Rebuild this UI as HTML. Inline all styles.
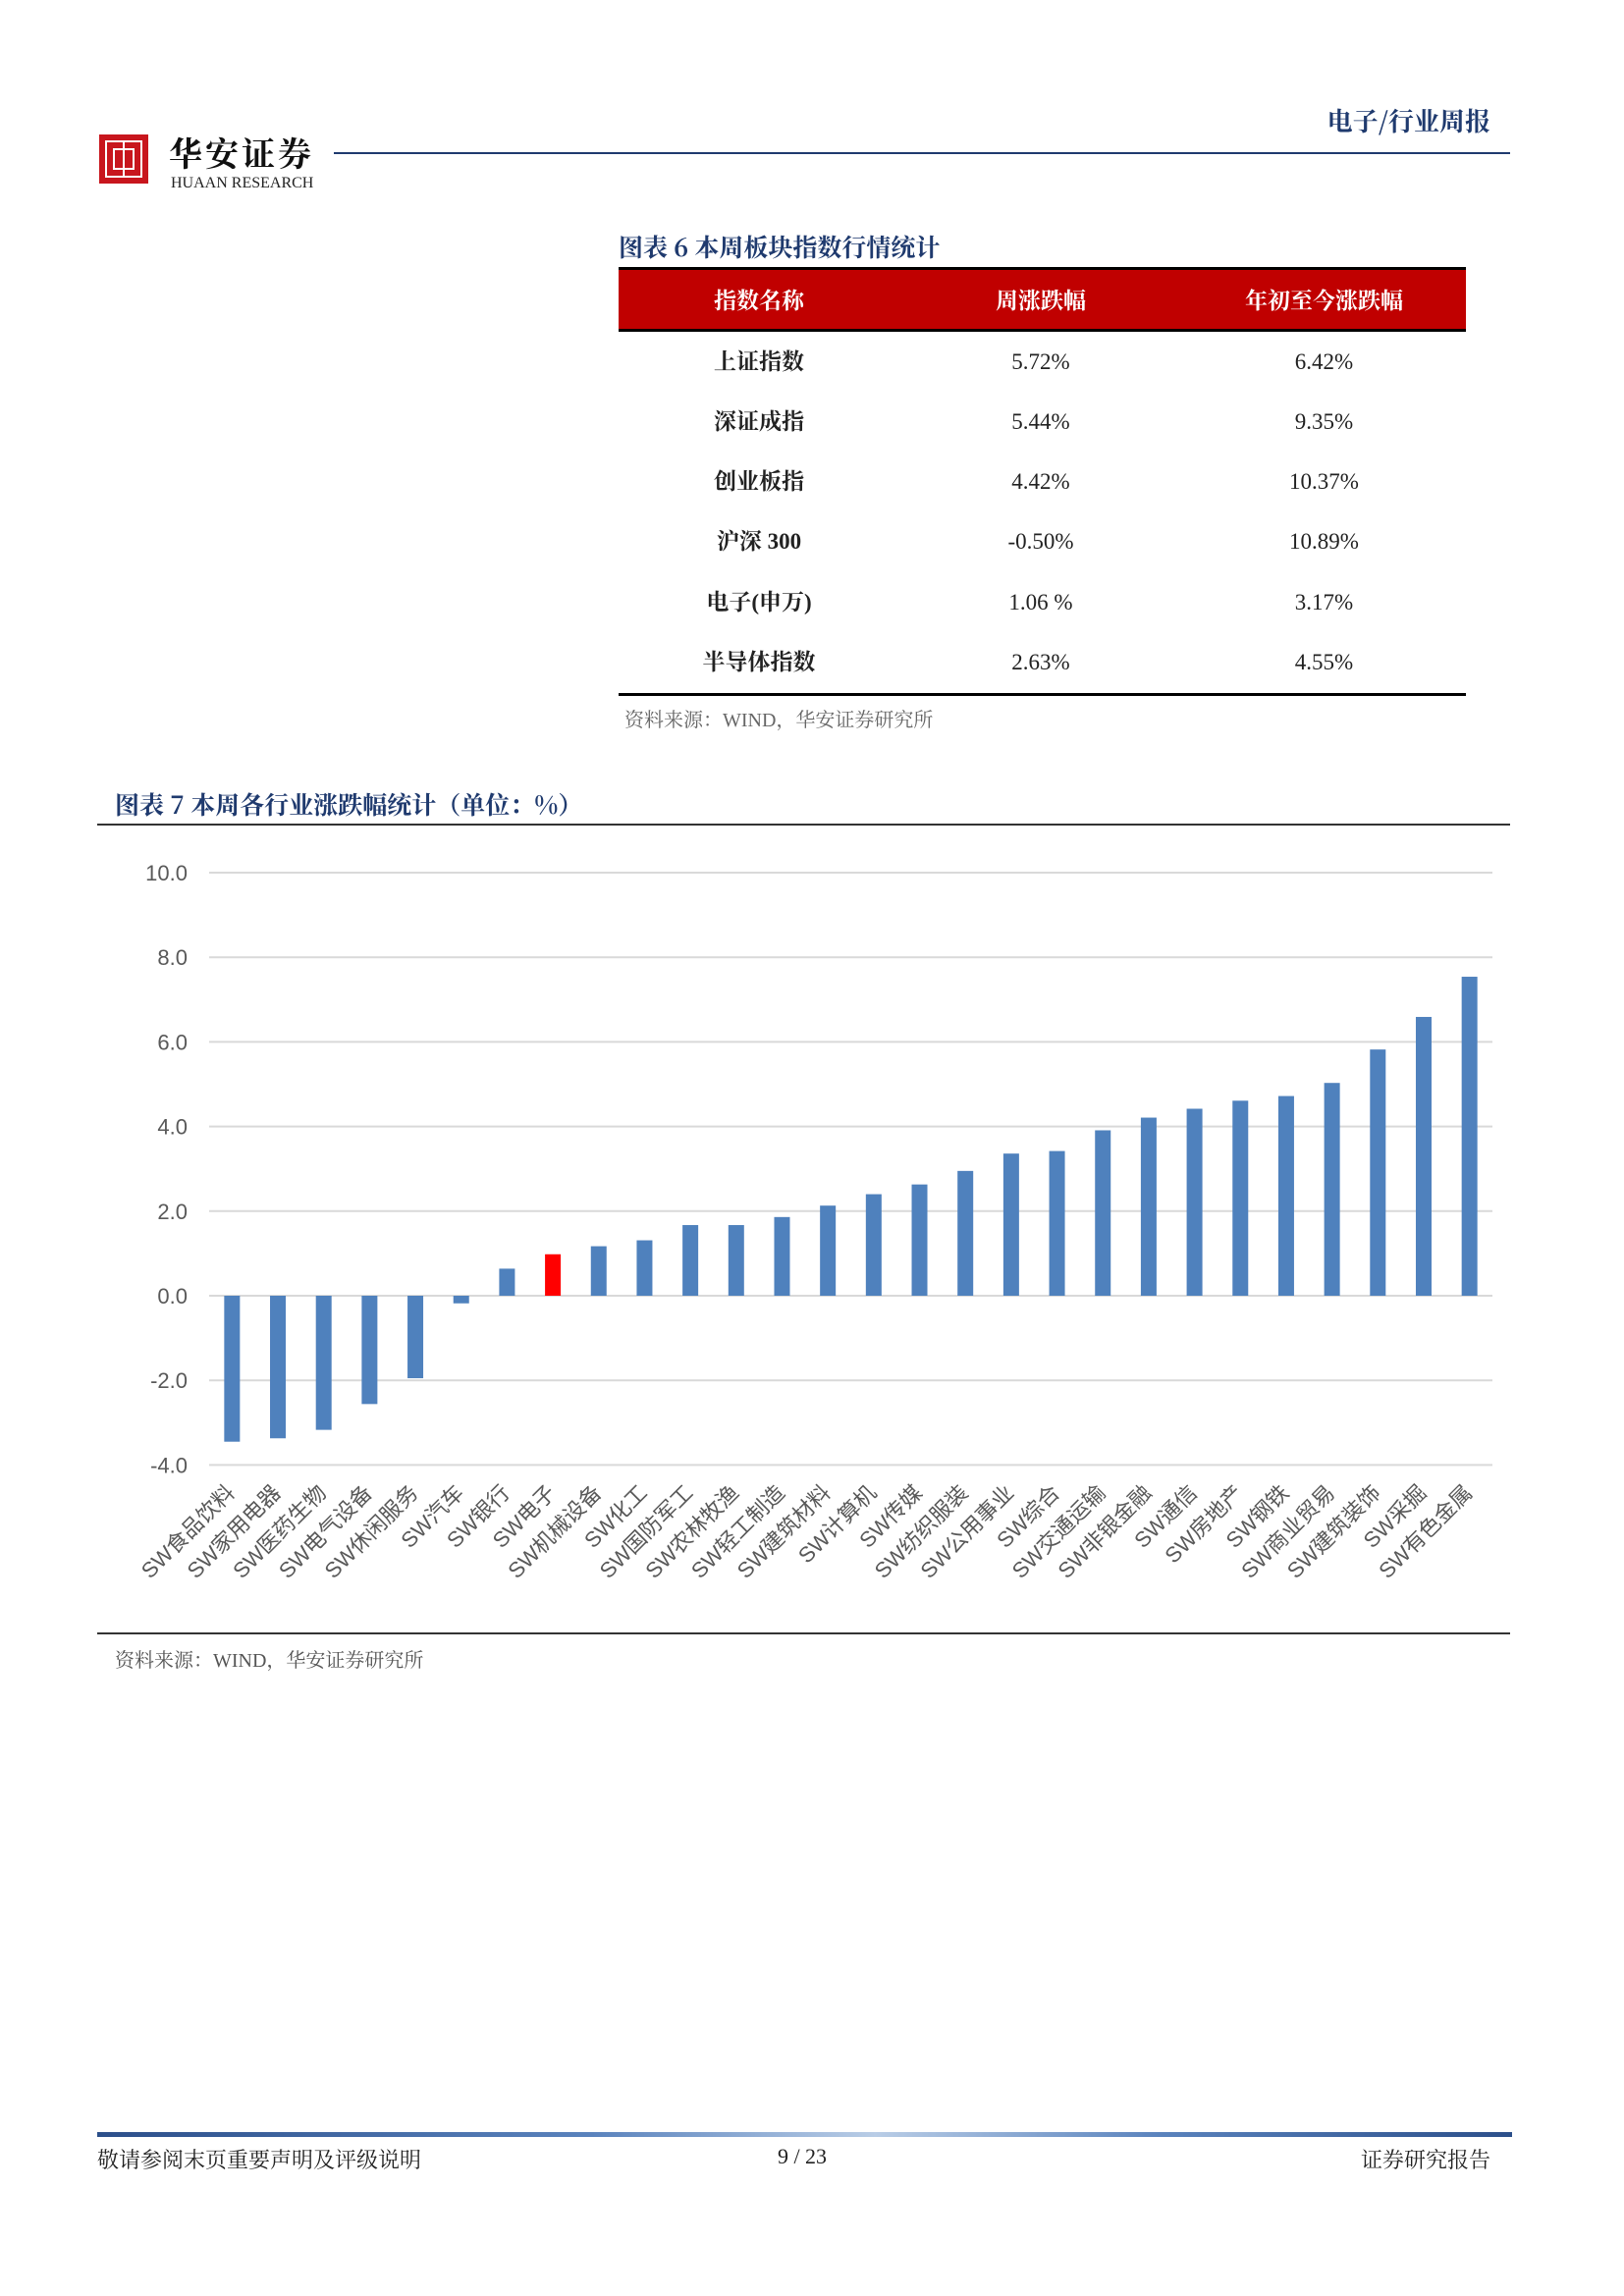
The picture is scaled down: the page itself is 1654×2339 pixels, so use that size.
<!DOCTYPE html>
<html><head><meta charset="utf-8"><style>
body{margin:0;background:#fff;}
#page{position:relative;width:1654px;height:2339px;overflow:hidden;background:#fff;font-family:"Liberation Serif","Noto Serif CJK SC",serif;}
.abs{position:absolute;}
.tbl-row{position:absolute;left:630px;width:863px;height:62px;}
.cell{position:absolute;top:0;height:62px;line-height:62px;text-align:center;font-size:23px;color:#222;}
.c1{left:0;width:286px;font-weight:bold;}
.c2{left:286px;width:288px;}
.c3{left:574px;width:289px;}
</style></head><body>
<div id="page">
  <!-- header -->
  <div class="abs" style="left:101px;top:137px;width:50px;height:50px;background:#c8161d;">
    <div style="position:absolute;left:6px;top:6px;width:34px;height:34px;border:2px solid #fff;"></div>
    <div style="position:absolute;left:14px;top:14px;width:18px;height:18px;border:2px solid #fff;"></div>
    <div style="position:absolute;left:24px;top:8px;width:2px;height:34px;background:#fff;"></div>
  </div>
  <div class="abs" style="left:172px;top:130px;font-size:34px;font-family:'Noto Serif CJK SC',serif;font-weight:bold;color:#111;letter-spacing:3px;">华安证券</div>
  <div class="abs" style="left:174px;top:178px;font-size:16px;color:#222;">HUAAN RESEARCH</div>
  <div class="abs" style="left:1328px;top:104px;width:190px;text-align:right;font-size:26px;font-weight:bold;color:#1f3a6e;font-family:'Noto Serif CJK SC',serif;">电子/行业周报</div>
  <div class="abs" style="left:340px;top:155px;width:1198px;height:2px;background:#1f3a6e;"></div>

  <!-- table -->
  <div class="abs" style="left:630px;top:233px;font-size:25px;font-weight:bold;color:#1f3a6e;font-family:'Noto Serif CJK SC',serif;">图表 6 本周板块指数行情统计</div>
  <div class="abs" style="left:630px;top:272px;width:863px;height:66px;background:#c00000;border-top:3px solid #000;border-bottom:3px solid #000;box-sizing:border-box;">
    <div class="cell c1" style="color:#fff;height:60px;line-height:60px;font-family:'Noto Serif CJK SC',serif;">指数名称</div>
    <div class="cell c2" style="color:#fff;height:60px;line-height:60px;font-weight:bold;font-family:'Noto Serif CJK SC',serif;">周涨跌幅</div>
    <div class="cell c3" style="color:#fff;height:60px;line-height:60px;font-weight:bold;font-family:'Noto Serif CJK SC',serif;">年初至今涨跌幅</div>
  </div>
  <div class="tbl-row" style="top:338px;"><div class="cell c1">上证指数</div><div class="cell c2">5.72%</div><div class="cell c3">6.42%</div></div>
  <div class="tbl-row" style="top:399px;"><div class="cell c1">深证成指</div><div class="cell c2">5.44%</div><div class="cell c3">9.35%</div></div>
  <div class="tbl-row" style="top:460px;"><div class="cell c1">创业板指</div><div class="cell c2">4.42%</div><div class="cell c3">10.37%</div></div>
  <div class="tbl-row" style="top:521px;"><div class="cell c1">沪深 300</div><div class="cell c2">-0.50%</div><div class="cell c3">10.89%</div></div>
  <div class="tbl-row" style="top:583px;"><div class="cell c1">电子(申万)</div><div class="cell c2">1.06 %</div><div class="cell c3">3.17%</div></div>
  <div class="tbl-row" style="top:644px;"><div class="cell c1">半导体指数</div><div class="cell c2">2.63%</div><div class="cell c3">4.55%</div></div>
  <div class="abs" style="left:630px;top:706px;width:863px;height:3px;background:#000;"></div>
  <div class="abs" style="left:636px;top:717px;font-size:20px;color:#666;">资料来源：WIND，华安证券研究所</div>

  <!-- chart -->
  <div class="abs" style="left:117px;top:801px;font-size:25px;font-weight:bold;color:#1f3a6e;font-family:'Noto Serif CJK SC',serif;">图表 7 本周各行业涨跌幅统计（单位：%）</div>
  <div class="abs" style="left:99px;top:839px;width:1439px;height:2px;background:#333;"></div>
  <svg class="abs" id="chart" style="left:0;top:0;" width="1654" height="1700"></svg>
  <div class="abs" style="left:99px;top:1663px;width:1439px;height:2px;background:#333;"></div>
  <div class="abs" style="left:117px;top:1675px;font-size:20px;color:#555;">资料来源：WIND，华安证券研究所</div>

  <!-- footer -->
  <div class="abs" style="left:99px;top:2172px;width:1441px;height:5px;background:linear-gradient(90deg,#2c4f8a,#5a83bd 35%,#b9cde6 55%,#5a83bd 75%,#2c4f8a);"></div>
  <div class="abs" style="left:99px;top:2184px;font-size:22px;color:#222;">敬请参阅末页重要声明及评级说明</div>
  <div class="abs" style="left:762px;top:2184px;width:110px;text-align:center;font-size:22px;color:#222;">9 / 23</div>
  <div class="abs" style="left:1318px;top:2184px;width:200px;text-align:right;font-size:22px;color:#222;">证券研究报告</div>
</div>
<script>
const categories=["SW食品饮料","SW家用电器","SW医药生物","SW电气设备","SW休闲服务","SW汽车","SW银行","SW电子","SW机械设备","SW化工","SW国防军工","SW农林牧渔","SW轻工制造","SW建筑材料","SW计算机","SW传媒","SW纺织服装","SW公用事业","SW综合","SW交通运输","SW非银金融","SW通信","SW房地产","SW钢铁","SW商业贸易","SW建筑装饰","SW采掘","SW有色金属"];
const values=[-3.45,-3.37,-3.17,-2.56,-1.95,-0.18,0.64,0.98,1.17,1.31,1.67,1.67,1.86,2.13,2.40,2.63,2.95,3.36,3.42,3.91,4.21,4.42,4.61,4.72,5.03,5.82,6.59,7.54];
const highlight="SW电子";
const yTicks=[10,8,6,4,2,0,-2,-4];
const tickLabels=["10.0","8.0","6.0","4.0","2.0","0.0","-2.0","-4.0"];

const svg=document.getElementById('chart');
const NS='http://www.w3.org/2000/svg';
const X0=213,X1=1520,Y0=1320,PX=43.1;
const y=v=>Y0-v*PX;
const band=(X1-X0)/categories.length;
const xc=i=>X0+band*(i+0.5);
function mk(t,a){const e=document.createElementNS(NS,t);for(const k in a)e.setAttribute(k,a[k]);svg.appendChild(e);return e;}
yTicks.forEach((t,i)=>{
  const g=mk('line',{x1:X0,x2:X1,y1:y(t),y2:y(t),stroke:'#d9d9d9','stroke-width':2});
  
  
  const l=mk('text',{x:191,y:y(t)+8,'text-anchor':'end','font-size':22,fill:'#595959','font-family':'Liberation Sans, sans-serif'});
  l.textContent=tickLabels[i];
  
  
});
categories.forEach((c,i)=>{
  const v=values[i];
  const r=mk('rect',{x:xc(i)-8,width:16,y:Math.min(y(v),Y0),height:Math.abs(y(v)-Y0),fill:c===highlight?'#ff0000':'#4f81bd'});
  
  
  const tx=xc(i)+4,ty=1522;
  const t=mk('text',{x:tx,y:ty,'text-anchor':'end','font-size':22,fill:'#595959','font-family':'Liberation Sans, Noto Sans CJK SC, sans-serif',transform:`rotate(-45 ${tx} ${ty})`});
  t.textContent=c;
  
  
});
</script>
</body></html>
